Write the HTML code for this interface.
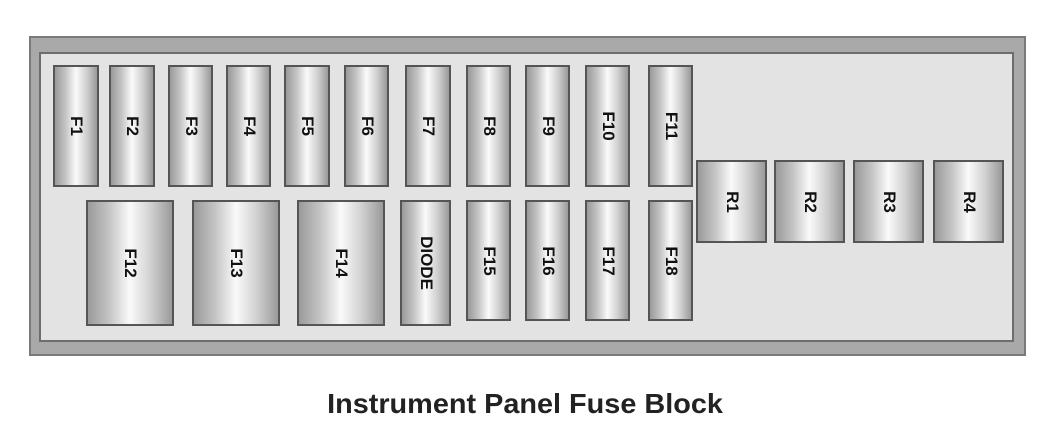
<!DOCTYPE html>
<html><head><style>
body{margin:0;width:1050px;height:424px;background:#fff;position:relative;overflow:hidden;font-family:"Liberation Sans",sans-serif}
.outer{position:absolute;left:29px;top:36px;width:993px;height:316px;background:#a9a9a9;border:2px solid #7a7a7a}
.inner{position:absolute;left:39px;top:52px;width:971px;height:286px;background:#e3e3e3;border:2px solid #6d6d6d}
.f{position:absolute;box-sizing:border-box;border:2px solid #555;background:linear-gradient(90deg,#9a9a9a 0%,#c4c4c4 25%,#fafafa 50%,#d0d0d0 75%,#9a9a9a 100%)}
.f span{position:absolute;left:50%;top:50%;transform:translate(-50%,-50%) rotate(90deg);font-size:17px;color:#111;white-space:nowrap;font-weight:bold}
.t{position:absolute;left:0;width:1050px;top:388px;text-align:center;font-weight:bold;font-size:28px;color:#222;transform:scaleX(1.03)}
</style></head><body>
<div class="outer"></div><div class="inner"></div>
<div class="f" style="left:53px;top:65px;width:46px;height:122px"><span>F1</span></div>
<div class="f" style="left:109px;top:65px;width:46px;height:122px"><span>F2</span></div>
<div class="f" style="left:168px;top:65px;width:45px;height:122px"><span>F3</span></div>
<div class="f" style="left:226px;top:65px;width:45px;height:122px"><span>F4</span></div>
<div class="f" style="left:284px;top:65px;width:46px;height:122px"><span>F5</span></div>
<div class="f" style="left:344px;top:65px;width:45px;height:122px"><span>F6</span></div>
<div class="f" style="left:405px;top:65px;width:46px;height:122px"><span>F7</span></div>
<div class="f" style="left:466px;top:65px;width:45px;height:122px"><span>F8</span></div>
<div class="f" style="left:525px;top:65px;width:45px;height:122px"><span>F9</span></div>
<div class="f" style="left:585px;top:65px;width:45px;height:122px"><span>F10</span></div>
<div class="f" style="left:648px;top:65px;width:45px;height:122px"><span>F11</span></div>
<div class="f" style="left:86px;top:200px;width:88px;height:126px"><span>F12</span></div>
<div class="f" style="left:192px;top:200px;width:88px;height:126px"><span>F13</span></div>
<div class="f" style="left:297px;top:200px;width:88px;height:126px"><span>F14</span></div>
<div class="f" style="left:400px;top:200px;width:51px;height:126px"><span>DIODE</span></div>
<div class="f" style="left:466px;top:200px;width:45px;height:121px"><span>F15</span></div>
<div class="f" style="left:525px;top:200px;width:45px;height:121px"><span>F16</span></div>
<div class="f" style="left:585px;top:200px;width:45px;height:121px"><span>F17</span></div>
<div class="f" style="left:648px;top:200px;width:45px;height:121px"><span>F18</span></div>
<div class="f" style="left:696px;top:160px;width:71px;height:83px"><span>R1</span></div>
<div class="f" style="left:774px;top:160px;width:71px;height:83px"><span>R2</span></div>
<div class="f" style="left:853px;top:160px;width:71px;height:83px"><span>R3</span></div>
<div class="f" style="left:933px;top:160px;width:71px;height:83px"><span>R4</span></div>
<div class="t">Instrument Panel Fuse Block</div>
</body></html>
